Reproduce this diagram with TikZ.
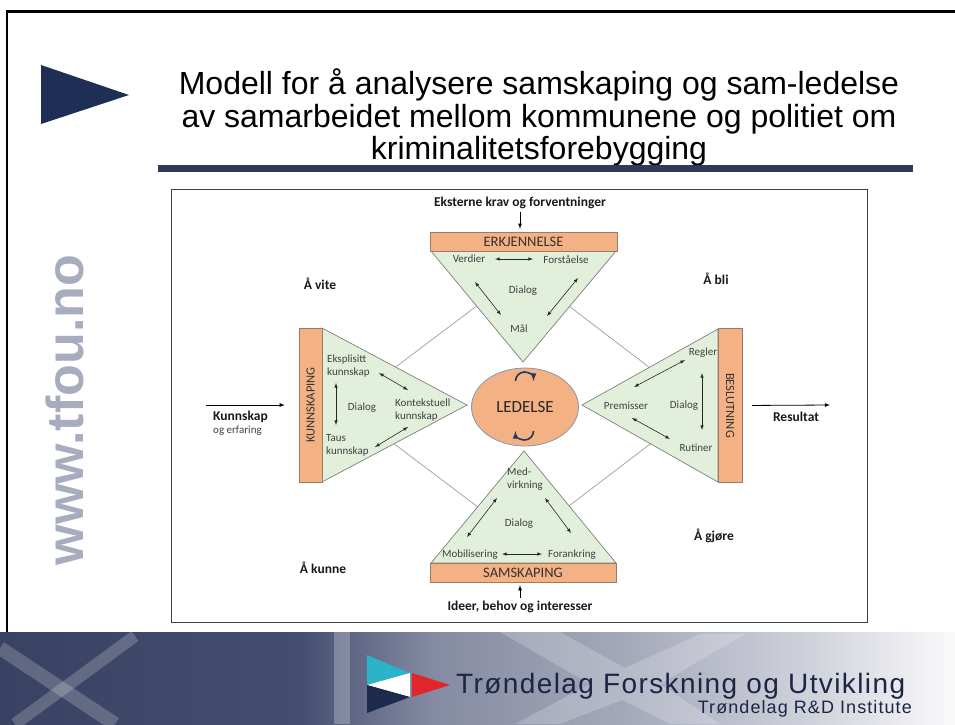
\documentclass[tikz,border=0pt]{standalone}
\usepackage{fontspec}
\setmainfont{Liberation Sans}
\newfontfamily\calfont{Carlito}
\usetikzlibrary{shapes}

\definecolor{navytri}{HTML}{1F2E55}
\definecolor{rulecol}{HTML}{2E3A5C}
\definecolor{webgray}{HTML}{A7ADBE}
\definecolor{orangefill}{HTML}{F4B183}
\definecolor{greenfill}{HTML}{E2EFDA}
\definecolor{triline}{HTML}{7F7F7F}
\definecolor{barline}{HTML}{9A7B66}
\definecolor{ellline}{HTML}{8497B0}
\definecolor{diamline}{HTML}{A6A6A6}
\definecolor{lbltext}{HTML}{404040}
\definecolor{arcblue}{HTML}{1F3864}
\definecolor{bnA}{HTML}{394262}
\definecolor{bnB}{HTML}{454E70}
\definecolor{bnC}{HTML}{848AA1}
\definecolor{bnD}{HTML}{A7ABBC}
\definecolor{bnE}{HTML}{D3D5DD}
\definecolor{bnF}{HTML}{FAFAFB}
\definecolor{logocyan}{HTML}{2BB3C7}
\definecolor{logored}{HTML}{E0262B}
\definecolor{logonavy}{HTML}{1E2A4C}
\definecolor{tfutext}{HTML}{1C2545}

\begin{document}
\begin{tikzpicture}[x=1pt,y=-1pt]
\useasboundingbox (0,0) rectangle (955,724);

% Define bar, triangle and label styles
\tikzstyle{bar} =[draw=barline, fill=orangefill, inner sep=0pt,
                  text=black!80, font=\calfont\fontsize{14.5}{15}\selectfont]
\tikzstyle{sidebar} =[bar, minimum width=154pt, minimum height=23pt,
                  font=\calfont\fontsize{12.5}{13}\selectfont]
\tikzstyle{tri} =[draw=triline, fill=greenfill, line width=0.7pt]
\tikzstyle{lbl} =[inner sep=1pt, align=left, text=lbltext,
                  font=\calfont\fontsize{11}{13}\selectfont]
\tikzstyle{blbl} =[inner sep=1pt, text=black!90,
                  font=\calfont\bfseries\fontsize{13.5}{15}\selectfont]
\tikzstyle{dbl} =[latex-latex, line width=0.6pt, black!85]
\tikzstyle{bigarr} =[-latex, line width=0.8pt]
\tikzstyle{titleline} =[anchor=base, font=\fontsize{32}{33}\selectfont]

% header
\draw[line width=2.5pt] (7,632) -- (7,11.5) -- (955,11.5);
\fill[navytri] (41,65) -- (129,95) -- (41,124) -- cycle;
\node[titleline] (title1) at (539,94) {Modell for å analysere samskaping og sam-ledelse};
\node[titleline] (title2) at (539,127) {av samarbeidet mellom kommunene og politiet om};
\node[titleline] (title3) at (539,159) {kriminalitetsforebygging};
\fill[rulecol] (158,165) rectangle (913,172);
\node[rotate=90, anchor=base, text=webgray,
      font=\bfseries\fontsize{52}{52}\selectfont] (web) at (83,410) {www.tfou.no};

% model
\draw[black!75, line width=1pt] (171,189) rectangle (867,622);
\draw[diamline, line width=0.8pt] (523,271) -- (700,406) -- (523,541) -- (344,406) -- cycle;

\draw[tri] (431,251) -- (616,251) -- (523,362) -- cycle;
\draw[tri] (322,328) -- (322,482) -- (467,405) -- cycle;
\draw[tri] (718,329) -- (718,482) -- (582,405) -- cycle;
\draw[tri] (431,563) -- (616,563) -- (524,451) -- cycle;

\node[bar, minimum width=187pt, minimum height=19pt] (erk) at (523.5,241.5) {ERKJENNELSE};
\node[bar, minimum width=186pt, minimum height=19pt] (samsk) at (523,572.5) {SAMSKAPING};
\node[sidebar, rotate=90] (kunn) at (310.5,405) {KUNNSKAPING};
\node[sidebar, rotate=-90, minimum height=24pt] (besl) at (730,405.5) {BESLUTNING};

\node[ellipse, draw=ellline, line width=0.8pt, fill=orangefill, minimum width=107pt,
      minimum height=78pt, text=black!85, font=\calfont\fontsize{17}{17}\selectfont]
      (led) at (525,407) {LEDELSE};
\draw[arcblue, line width=1.6pt, -latex] (515.5,381) arc (180:360:9);
\draw[arcblue, line width=1.6pt, -latex] (533.5,431) arc (0:180:9);

% labels
\node[lbl] (verdier) at (469,259) {Verdier};
\node[lbl] (forst) at (566,260) {Forståelse};
\node[lbl] (dialog1) at (523,291) {Dialog};
\node[lbl] (maal) at (519,329) {Mål};
\node[lbl, anchor=west] (ekspl) at (326,366) {Eksplisitt\\kunnskap};
\node[lbl, anchor=west] (kontekst) at (394,410) {Kontekstuell\\kunnskap};
\node[lbl, anchor=west] (taus) at (325,445) {Taus\\kunnskap};
\node[lbl] (dialog2) at (362,408) {Dialog};
\node[lbl] (regler) at (703,353) {Regler};
\node[lbl] (premisser) at (626,406) {Premisser};
\node[lbl] (dialog3) at (684,406) {Dialog};
\node[lbl] (rutiner) at (696,448) {Rutiner};
\node[lbl, anchor=west] (medv) at (506,479) {Med-\\virkning};
\node[lbl] (dialog4) at (519,524) {Dialog};
\node[lbl] (mobil) at (470,555) {Mobilisering};
\node[lbl] (forank) at (572,555) {Forankring};

\node[blbl] (ekst) at (520,203) {Eksterne krav og forventninger};
\node[blbl] (ideer) at (520,607) {Ideer, behov og interesser};
\node[blbl] (vite) at (320,284) {Å vite};
\node[blbl] (bli) at (716,279) {Å bli};
\node[blbl] (kunne) at (323,568) {Å kunne};
\node[blbl] (gjore) at (714,536) {Å gjøre};
\node[blbl, anchor=west] (kunnsk) at (212,417) {Kunnskap};
\node[lbl, anchor=west] (erfar) at (212,431) {og erfaring};
\node[blbl] (result) at (796,417) {Resultat};

% arrows
\draw[bigarr, shorten <=2pt, shorten >=3pt] (ekst.south) -- (ekst.south |- erk.north);
\draw[bigarr, shorten <=2pt, shorten >=3pt] (ideer.north) -- (ideer.north |- samsk.south);
\coordinate (kin) at (206,405);
\coordinate (kout) at (830,405);
\draw[bigarr, shorten >=14pt] (kin) -- (kunn.north);
\draw[bigarr, shorten <=10pt] (besl.north) -- (kout);

\foreach \n/\x/\y in {a1/495/259, a2/533/259, b1/475/282, b2/501/315, c1/578/278, c2/547/316,
                      d1/336/383, d2/336/425, e1/379/373, e2/408/390, f1/408/427, f2/375/447,
                      g1/702/373, g2/702/430, h1/685/360, h2/634/387, i1/632/418, i2/670/439,
                      j1/502/554, j2/542/554, k1/497/498, k2/467/537, l1/545/498, l2/571/533}
  \coordinate (\n) at (\x,\y);
\foreach \s in {a,b,c,d,e,f,g,h,i,j,k,l}
  \draw[dbl] (\s1) -- (\s2);

% banner
\foreach \xa/\xb/\ca/\cb in {0/300/bnA/bnB, 300/430/bnB/bnC, 430/640/bnC/bnD,
                             640/820/bnD/bnE, 820/955/bnE/bnF}
  \shade[left color=\ca, right color=\cb] (\xa,632) rectangle (\xb+1,724);
\draw[white, opacity=0.2, line width=14pt] (0,648) -- (115,724);
\draw[white, opacity=0.2, line width=12pt] (15,724) -- (135,636);
\fill[white, opacity=0.25] (334,632) rectangle (350,724);
\fill[white, opacity=0.2] (500,632) -- (560,632) -- (625,668) -- (700,634) -- (745,634)
  -- (660,684) -- (720,724) -- (670,724) -- (622,700) -- (560,724) -- (515,724)
  -- (590,684) -- cycle;

\fill[logocyan] (367,655) -- (410,673) -- (367,685) -- cycle;
\fill[white] (367,685) -- (410,673) -- (410,697) -- cycle;
\fill[logonavy] (367,685) -- (410,697) -- (367,713) -- cycle;
\fill[logored] (412,673) -- (450,685) -- (412,697) -- cycle;
\node[anchor=base west, inner sep=0pt, text=tfutext,
      font=\fontsize{28}{28}\selectfont\addfontfeatures{LetterSpace=5}] (tfu) at (456,693)
  {Trøndelag Forskning og Utvikling};
\node[anchor=base east, inner sep=0pt, text=tfutext,
      font=\fontsize{18}{18}\selectfont\addfontfeatures{LetterSpace=6}] (tfuen) at (912,713)
  {Trøndelag R\&D Institute};

\end{tikzpicture}
\end{document}
